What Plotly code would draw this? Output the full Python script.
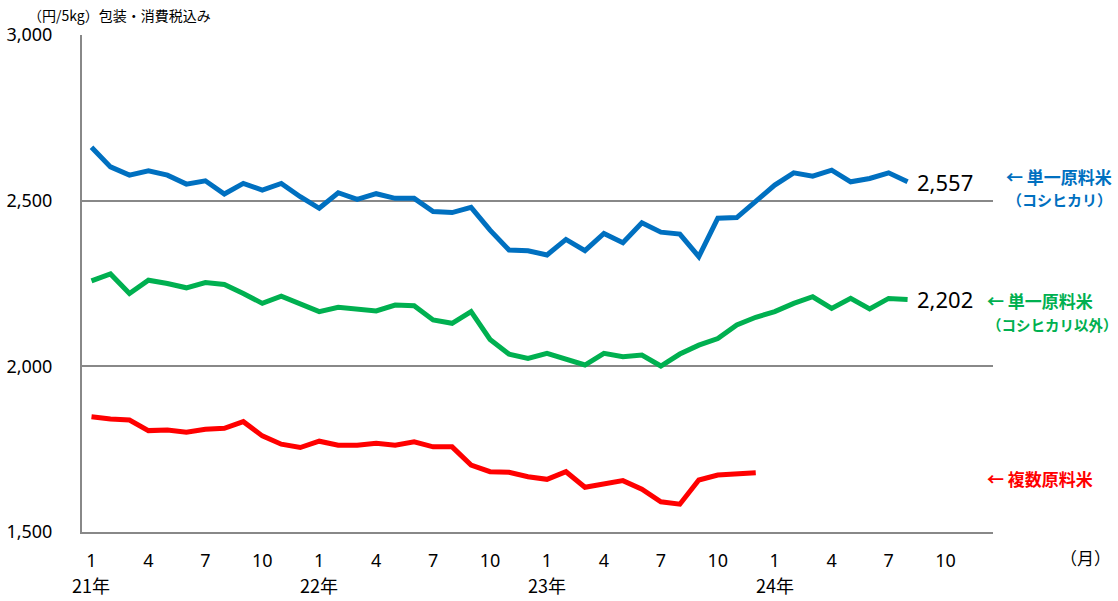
import plotly.graph_objects as go

# months Jan 2021 .. Dec 2024
years = ["21", "22", "23", "24"]
months = [f"{y}/{m}" for y in years for m in range(1, 13)]
tick_months = [1, 4, 7, 10]
year_labels = ["21年", "22年", "23年", "24年"]

# 単一原料米（コシヒカリ） Jan 2021 - Aug 2024
koshihikari = [2661, 2602, 2577, 2590, 2577, 2550, 2560, 2520, 2552, 2532, 2552, 2512,
               2477, 2524, 2504, 2521, 2507, 2507, 2467, 2464, 2480, 2411, 2351, 2349,
               2336, 2383, 2349, 2401, 2373, 2433, 2405, 2399, 2331, 2447, 2449, 2497,
               2547, 2584, 2574, 2592, 2557, 2567, 2584, 2557]
# 単一原料米（コシヒカリ以外） Jan 2021 - Aug 2024
non_koshihikari = [2258, 2279, 2220, 2260, 2250, 2237, 2253, 2247, 2220, 2190, 2212, 2188,
                   2165, 2178, 2173, 2167, 2185, 2183, 2140, 2130, 2165, 2081, 2037, 2024,
                   2039, 2021, 2004, 2039, 2029, 2034, 2001, 2037, 2064, 2084, 2125, 2148,
                   2165, 2190, 2210, 2175, 2205, 2173, 2205, 2202]
# 複数原料米 Jan 2021 - Dec 2023
blended = [1848, 1841, 1838, 1806, 1808, 1801, 1810, 1813, 1833, 1790, 1765, 1755,
           1774, 1762, 1762, 1768, 1762, 1772, 1757, 1757, 1702, 1682, 1680, 1667,
           1659, 1682, 1635, 1645, 1655, 1629, 1591, 1584, 1657, 1672, 1675, 1679]

y_ticks = [1500, 2000, 2500, 3000]

BLUE = "#0070C0"
GREEN = "#00B050"
RED = "#FF0000"
GRID = "#888888"
FONT = "Noto Sans, Noto Sans CJK JP, sans-serif"
JP = "Noto Sans CJK JP, sans-serif"

fig = go.Figure()
for vals, col in [(koshihikari, BLUE), (non_koshihikari, GREEN), (blended, RED)]:
    fig.add_trace(go.Scatter(x=months[:len(vals)], y=vals, mode="lines",
                             line=dict(color=col, width=5), showlegend=False,
                             hoverinfo="x+y"))

tickvals = [f"{y}/{m}" for y in years for m in tick_months]
ticktext = [str(m) for y in years for m in tick_months]

fig.update_layout(
    width=1118, height=601,
    margin=dict(l=82, r=125, t=35, b=69),
    plot_bgcolor="white", paper_bgcolor="white",
    font=dict(family=FONT, size=18, color="black"),
    xaxis=dict(type="category", categoryorder="array", categoryarray=months,
               range=[-0.5, len(months) - 0.5], automargin=False,
               tickvals=tickvals, ticktext=ticktext, showgrid=False,
               showline=True, linecolor=GRID, linewidth=2, ticks="",
               ticklabelstandoff=11, tickfont=dict(size=18)),
    yaxis=dict(range=[1500, 3000], tickvals=y_ticks, automargin=False,
               ticktext=[f"{v:,}" for v in y_ticks],
               showgrid=True, gridcolor=GRID, gridwidth=2,
               showline=True, linecolor=GRID, linewidth=2, ticks="",
               ticklabelstandoff=24, tickfont=dict(size=18), zeroline=False),
)

ann = []
# year labels under January ticks
for y, lab in zip(years, year_labels):
    ann.append(dict(x=f"{y}/1", y=-0.107, xref="x", yref="paper", text=lab,
                    xanchor="center", yanchor="middle",
                    showarrow=False, font=dict(family=JP, size=18)))
ann.append(dict(x=1.102, y=-0.052, xref="paper", yref="paper", text="（月）",
                xanchor="center", yanchor="middle",
                showarrow=False, font=dict(family=JP, size=17)))
ann.append(dict(x=-0.062, y=1.04, xref="paper", yref="paper", xanchor="left",
                yanchor="middle",
                text="（円/5kg）包装・消費税込み", showarrow=False,
                font=dict(family=JP, size=14)))
# end value labels
for vals in [koshihikari, non_koshihikari]:
    ann.append(dict(x=months[len(vals) - 1], y=vals[-1], xref="x", yref="y",
                    xanchor="left", yanchor="middle", xshift=7,
                    text=f"{vals[-1]:,}", showarrow=False,
                    font=dict(family=FONT, size=22)))
# series labels
ann += [
    dict(x=1.133, y=0.715, xref="paper", yref="paper", xanchor="right", yanchor="middle",
         text="<b>← 単一原料米</b>", showarrow=False, font=dict(family=JP, size=17, color=BLUE)),
    dict(x=1.133, y=0.670, xref="paper", yref="paper", xanchor="right", yanchor="middle",
         text="<b>（コシヒカリ）</b>", showarrow=False, font=dict(family=JP, size=15, color=BLUE)),
    dict(x=0.991, y=0.466, xref="paper", yref="paper", xanchor="left", yanchor="middle",
         text="<b>← 単一原料米</b>", showarrow=False, font=dict(family=JP, size=17, color=GREEN)),
    dict(x=0.991, y=0.417, xref="paper", yref="paper", xanchor="left", yanchor="middle",
         text="<b>（コシヒカリ以外）</b>", showarrow=False, font=dict(family=JP, size=14.5, color=GREEN)),
    dict(x=0.991, y=0.107, xref="paper", yref="paper", xanchor="left", yanchor="middle",
         text="<b>← 複数原料米</b>", showarrow=False, font=dict(family=JP, size=17, color=RED)),
]
fig.update_layout(annotations=ann)

fig.write_html("out.html", config={"displayModeBar": False},
               post_script="document.body.style.margin='0';document.body.style.padding='0';")
